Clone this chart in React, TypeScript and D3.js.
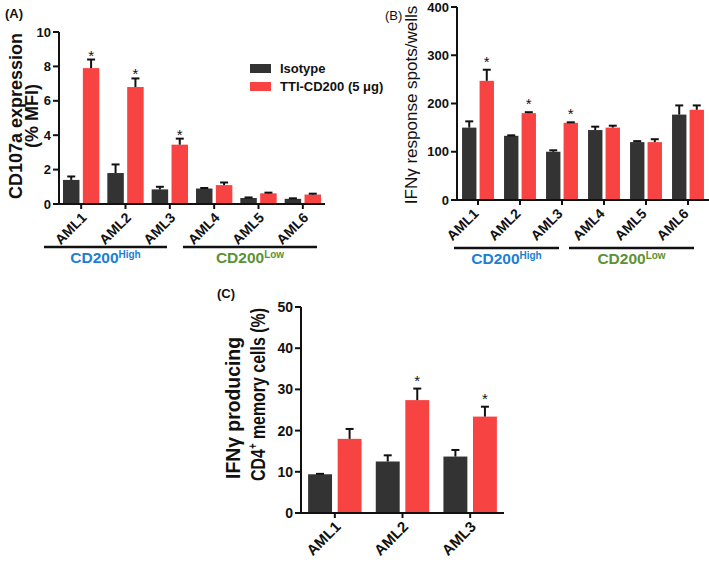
import React from "react";
import * as d3 from "d3";

const categoriesA = ["AML1", "AML2", "AML3", "AML4", "AML5", "AML6"];
const isotypeA = [1.4, 1.8, 0.85, 0.9, 0.35, 0.3];
const isotypeAErr = [0.2, 0.5, 0.15, 0.03, 0.03, 0.03];
const ttiA = [7.9, 6.8, 3.45, 1.1, 0.62, 0.55];
const ttiAErr = [0.5, 0.5, 0.35, 0.15, 0.04, 0.05];
const starsA = [true, true, true, false, false, false];
const ticksA = [0, 2, 4, 6, 8, 10];

const categoriesB = ["AML1", "AML2", "AML3", "AML4", "AML5", "AML6"];
const isotypeB = [150, 133, 100, 145, 120, 177];
const isotypeBErr = [13, 1, 3, 7, 2, 19];
const ttiB = [247, 180, 160, 150, 120, 187];
const ttiBErr = [23, 2, 1, 4, 6, 9];
const starsB = [true, true, true, false, false, false];
const ticksB = [0, 100, 200, 300, 400];

const categoriesC = ["AML1", "AML2", "AML3"];
const isotypeC = [9.4, 12.5, 13.7];
const isotypeCErr = [0.1, 1.5, 1.6];
const ttiC = [18, 27.4, 23.4];
const ttiCErr = [2.4, 2.8, 2.4];
const starsC = [false, true, true];
const ticksC = [0, 10, 20, 30, 40, 50];

const seriesNames = ["Isotype", "TTI-CD200 (5 \u03bcg)"];
const DARK = "#333333";
const RED = "#f84343";
const BLUE = "#1b80d2";
const GREEN = "#5b9234";
const FONT = "'Liberation Sans', Arial, sans-serif";

type PanelProps = {
  cats: string[];
  iso: number[];
  isoErr: number[];
  tti: number[];
  ttiErr: number[];
  stars: boolean[];
  ticks: number[];
  x0: number;
  x1: number;
  y0: number;
  y1: number;
  pad: number;
  innerPad: number;
  tickFont: number;
  labelFont: number;
  labelDx: number;
  starDy: number;
};

function Panel(p: PanelProps) {
  const max = p.ticks[p.ticks.length - 1];
  const y = d3.scaleLinear().domain([0, max]).range([p.y0, p.y1]);
  const x = d3
    .scaleBand<string>()
    .domain(p.cats)
    .range([p.x0, p.x1])
    .paddingInner(p.pad)
    .paddingOuter(p.pad / 2);
  const xs = d3
    .scaleBand<string>()
    .domain(["iso", "tti"])
    .range([0, x.bandwidth()])
    .paddingInner(p.innerPad);
  const series = [
    { key: "iso", vals: p.iso, errs: p.isoErr, color: DARK },
    { key: "tti", vals: p.tti, errs: p.ttiErr, color: RED },
  ];
  return (
    <g>
      {series.map((s) =>
        p.cats.map((c, i) => {
          const bx = (x(c) as number) + (xs(s.key) as number);
          const bw = xs.bandwidth();
          const top = y(s.vals[i]);
          const capY = y(s.vals[i] + s.errs[i]);
          const cx = bx + bw / 2;
          return (
            <g key={s.key + c}>
              <rect x={bx} y={top} width={bw} height={p.y0 - top} fill={s.color} />
              <line x1={cx} x2={cx} y1={top} y2={capY} stroke="#111" strokeWidth={2} />
              <line x1={cx - 4} x2={cx + 4} y1={capY} y2={capY} stroke="#111" strokeWidth={2} />
              {s.key === "tti" && p.stars[i] ? (
                <text x={cx} y={capY - p.starDy} textAnchor="middle" fontSize={15} fontFamily={FONT} fill="#111">
                  *
                </text>
              ) : null}
            </g>
          );
        })
      )}
      {/* y axis */}
      <line x1={p.x0} x2={p.x0} y1={p.y0 + 1} y2={p.y1} stroke="#111" strokeWidth={2} />
      {p.ticks.map((t) => (
        <g key={"yt" + t}>
          <line x1={p.x0 - 6} x2={p.x0} y1={y(t)} y2={y(t)} stroke="#111" strokeWidth={2} />
          <text
            x={p.x0 - 8}
            y={y(t)}
            dy="0.36em"
            textAnchor="end"
            fontSize={p.tickFont}
            fontWeight="bold"
            fontFamily={FONT}
            fill="#111"
          >
            {t}
          </text>
        </g>
      ))}
      {/* x axis */}
      <line x1={p.x0 - 1} x2={p.x1} y1={p.y0} y2={p.y0} stroke="#111" strokeWidth={2} />
      {p.cats.map((c) => {
        const tx = (x(c) as number) + x.bandwidth() / 2;
        return (
          <g key={"xt" + c}>
            <line x1={tx} x2={tx} y1={p.y0} y2={p.y0 + 5} stroke="#111" strokeWidth={2} />
            <text
              transform={`translate(${tx + p.labelDx},${p.y0 + 11}) rotate(-45)`}
              dy="0.35em"
              textAnchor="end"
              fontSize={p.labelFont}
              fontWeight="bold"
              fontFamily={FONT}
              fill="#111"
            >
              {c}
            </text>
          </g>
        );
      })}
    </g>
  );
}

function GroupLabel({ x1, x2, y, text, sup, color }: { x1: number; x2: number; y: number; text: string; sup: string; color: string }) {
  return (
    <g>
      <line x1={x1} x2={x2} y1={y} y2={y} stroke="#111" strokeWidth={2.5} />
      <text
        x={(x1 + x2) / 2}
        y={y + 16}
        textAnchor="middle"
        fontSize={15.5}
        fontWeight="bold"
        fontFamily={FONT}
        fill={color}
      >
        {text}
        <tspan fontSize={10} dy={-5}>
          {sup}
        </tspan>
      </text>
    </g>
  );
}

export default function App() {
  return (
    <svg
      width={709}
      height={562}
      style={{ position: "absolute", left: 0, top: 0, display: "block", background: "#fff" }}
    >
      {/* Panel A */}
      <text x={5} y={18} fontSize={13} fontWeight="bold" fontFamily={FONT} fill="#111">
        (A)
      </text>
      <text
        transform="translate(22,116) rotate(-90)"
        textAnchor="middle"
        fontSize={18}
        fontWeight="bold"
        fontFamily={FONT}
        fill="#111"
        textLength={166}
        lengthAdjust="spacingAndGlyphs"
      >
        CD107a expression
      </text>
      <text
        transform="translate(38,116) rotate(-90)"
        textAnchor="middle"
        fontSize={18}
        fontWeight="bold"
        fontFamily={FONT}
        fill="#111"
      >
        (% MFI)
      </text>
      <Panel
        cats={categoriesA}
        iso={isotypeA}
        isoErr={isotypeAErr}
        tti={ttiA}
        ttiErr={ttiAErr}
        stars={starsA}
        ticks={ticksA}
        x0={59}
        x1={325}
        y0={204}
        y1={32}
        pad={0.18}
        innerPad={0.17}
        tickFont={13}
        labelFont={14}
        labelDx={3}
        starDy={-1}
      />
      <GroupLabel x1={44} x2={167} y={247} text="CD200" sup="High" color={BLUE} />
      <GroupLabel x1={183} x2={317} y={247} text="CD200" sup="Low" color={GREEN} />
      {/* Legend */}
      {seriesNames.map((n, i) => (
        <g key={n}>
          <rect x={250} y={64 + i * 18} width={21} height={9} fill={i === 0 ? DARK : RED} />
          <text x={280} y={73 + i * 18} fontSize={13} fontWeight="bold" fontFamily={FONT} fill="#111">
            {n}
          </text>
        </g>
      ))}

      {/* Panel B */}
      <text x={385} y={20} fontSize={13} fontFamily={FONT} fill="#111">
        (B)
      </text>
      <text
        transform="translate(417,105) rotate(-90)"
        textAnchor="middle"
        fontSize={17}
        fontFamily={FONT}
        fill="#111"
      >
        IFN{"\u03b3"} response spots/wells
      </text>
      <Panel
        cats={categoriesB}
        iso={isotypeB}
        isoErr={isotypeBErr}
        tti={ttiB}
        ttiErr={ttiBErr}
        stars={starsB}
        ticks={ticksB}
        x0={457}
        x1={709}
        y0={200}
        y1={7}
        pad={0.24}
        innerPad={0.18}
        tickFont={13}
        labelFont={14}
        labelDx={-2}
        starDy={3}
      />
      <GroupLabel x1={454} x2={559} y={248} text="CD200" sup="High" color={BLUE} />
      <GroupLabel x1={569} x2={694} y={248} text="CD200" sup="Low" color={GREEN} />

      {/* Panel C */}
      <text x={217} y={298} fontSize={13} fontWeight="bold" fontFamily={FONT} fill="#111">
        (C)
      </text>
      <text
        transform="translate(240,479) rotate(-90)"
        textAnchor="start"
        fontSize={20}
        fontWeight="bold"
        fontFamily={FONT}
        fill="#111"
        textLength={142}
        lengthAdjust="spacingAndGlyphs"
      >
        IFN{"\u03b3"} producing
      </text>
      <text
        transform="translate(265,481) rotate(-90)"
        textAnchor="start"
        fontSize={20}
        fontWeight="bold"
        fontFamily={FONT}
        fill="#111"
        textLength={173}
        lengthAdjust="spacingAndGlyphs"
      >
        CD4
        <tspan fontSize={12} dy={-8}>
          +
        </tspan>
        <tspan dy={8}> memory cells (%)</tspan>
      </text>
      <Panel
        cats={categoriesC}
        iso={isotypeC}
        isoErr={isotypeCErr}
        tti={ttiC}
        ttiErr={ttiCErr}
        stars={starsC}
        ticks={ticksC}
        x0={301}
        x1={504}
        y0={513}
        y1={307}
        pad={0.21}
        innerPad={0.19}
        tickFont={14}
        labelFont={15}
        labelDx={3}
        starDy={3}
      />
    </svg>
  );
}
